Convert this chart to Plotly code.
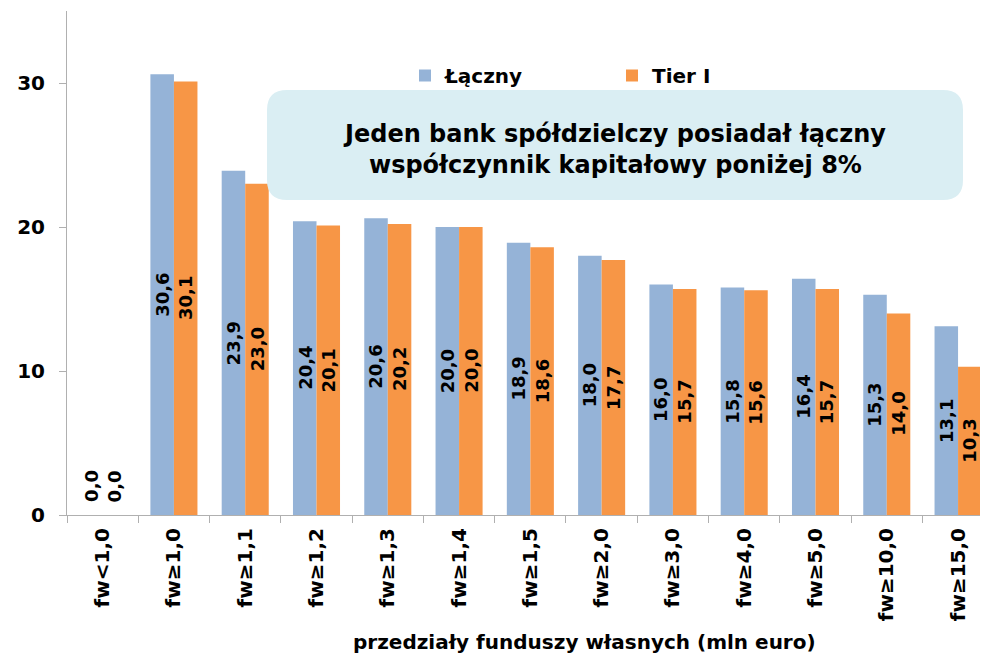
import plotly.graph_objects as go

categories = ["fw<1,0", "fw≥1,0", "fw≥1,1", "fw≥1,2", "fw≥1,3", "fw≥1,4", "fw≥1,5",
              "fw≥2,0", "fw≥3,0", "fw≥4,0", "fw≥5,0", "fw≥10,0", "fw≥15,0"]
laczny = [0.0, 30.6, 23.9, 20.4, 20.6, 20.0, 18.9, 18.0, 16.0, 15.8, 16.4, 15.3, 13.1]
tier1 = [0.0, 30.1, 23.0, 20.1, 20.2, 20.0, 18.6, 17.7, 15.7, 15.6, 15.7, 14.0, 10.3]
y_ticks = [0, 10, 20, 30]

FONT = "Verdana, DejaVu Sans, sans-serif"
BLUE = "#95B3D7"
ORANGE = "#F79646"

fig = go.Figure()
for name, vals, col in [("Łączny", laczny, BLUE), ("Tier I", tier1, ORANGE)]:
    fig.add_trace(go.Bar(x=categories, y=vals, name=name,
                         marker=dict(color=col, line=dict(width=0))))

# page has an 8px body margin; figure sized to fill the rest of the window
OFF = 8
W, H = 988 - OFF, 655 - OFF
ml, mr, mt, mb = 67 - OFF, 0, 11 - OFF, 140
pw, ph = W - ml - mr, H - mt - mb

def px(x):  # reference-screen x -> paper
    return (x - OFF - ml) / pw

def py(y):  # reference-screen y -> paper
    return (H - mb - (y - OFF)) / ph

annotations = []
bar_half = 11.75
for vals, shift in [(laczny, -bar_half), (tier1, bar_half)]:
    for c, v in zip(categories, vals):
        lab = f"{v:.1f}".replace(".", ",")
        if v == 0:
            annotations.append(dict(x=c, y=0, xref="x", yref="y", text=lab, showarrow=False,
                                    textangle=-90, xshift=shift, yshift=11,
                                    xanchor="center", yanchor="bottom",
                                    font=dict(family=FONT, size=18, color="black", weight="bold")))
        else:
            annotations.append(dict(x=c, y=v / 2, xref="x", yref="y", text=lab, showarrow=False,
                                    textangle=-90, xshift=shift,
                                    xanchor="center", yanchor="middle",
                                    font=dict(family=FONT, size=18, color="black", weight="bold")))

annotations += [
    dict(text="Jeden bank spółdzielczy posiadał łączny<br>współczynnik kapitałowy poniżej 8%",
         xref="paper", yref="paper", x=px(614), y=py(149), showarrow=False,
         xanchor="center", yanchor="middle", align="center",
         font=dict(family=FONT, size=24, color="black", weight="bold")),
    dict(text="przedziały funduszy własnych (mln euro)",
         xref="paper", yref="paper", x=px(584), y=py(642), showarrow=False,
         xanchor="center", yanchor="middle",
         font=dict(family=FONT, size=20, color="black", weight="bold")),
]

# rounded box
x0, x1, y0, y1 = px(267), px(963), py(200), py(90)
rx, ry = 20 / pw, 20 / ph
path = (f"M {x0+rx},{y0} L {x1-rx},{y0} Q {x1},{y0} {x1},{y0+ry} "
        f"L {x1},{y1-ry} Q {x1},{y1} {x1-rx},{y1} L {x0+rx},{y1} "
        f"Q {x0},{y1} {x0},{y1-ry} L {x0},{y0+ry} Q {x0},{y0} {x0+rx},{y0} Z")

fig.update_layout(
    width=W, height=H,
    margin=dict(l=ml, r=mr, t=mt, b=mb, autoexpand=False),
    paper_bgcolor="white", plot_bgcolor="white",
    barmode="group", bargap=0.34, bargroupgap=0,
    font=dict(family=FONT, color="black"),
    showlegend=True,
    legend=dict(orientation="h", x=px(405), y=py(56), xanchor="left", yanchor="top",
                font=dict(family=FONT, size=20, color="black", weight="bold"),
                entrywidth=162, entrywidthmode="pixels", itemwidth=30,
                bgcolor="rgba(0,0,0,0)"),
    shapes=[dict(type="path", path=path, xref="paper", yref="paper",
                 fillcolor="#DAEEF3", line=dict(width=0), layer="above")],
    annotations=annotations,
    xaxis=dict(type="category", range=[-0.5, 12.42], showline=True, linecolor="#B0B0B0",
               linewidth=1, ticks="outside", tickson="boundaries", ticklen=7,
               tickcolor="#B0B0B0", tickangle=-90, automargin=False, ticklabelstandoff=4,
               tickfont=dict(family=FONT, size=20, color="black", weight="bold"),
               showgrid=False, zeroline=False),
    yaxis=dict(range=[0, 35], tickvals=y_ticks, showline=True, linecolor="#B0B0B0",
               linewidth=1, ticks="outside", ticklen=7, tickcolor="#B0B0B0",
               automargin=False, ticklabelstandoff=10,
               tickfont=dict(family=FONT, size=20, color="black", weight="bold"),
               showgrid=False, zeroline=False),
)

fig.write_html("out.html")
